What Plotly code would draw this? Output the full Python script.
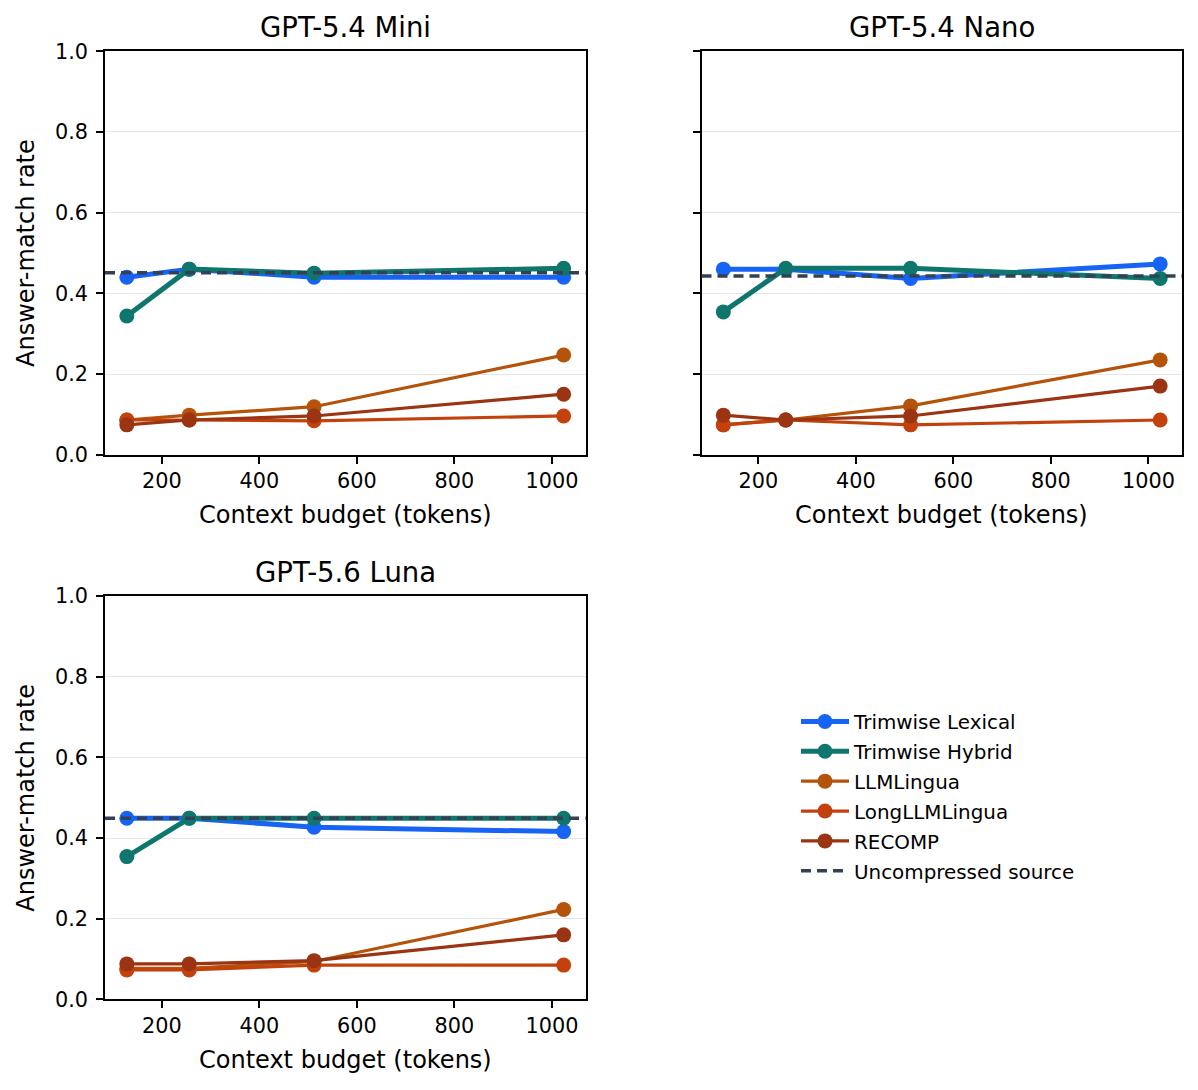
import plotly.graph_objects as go

# ---------------- data ----------------
budgets = [128, 256, 512, 1024]
panel_titles = ["GPT-5.4 Mini", "GPT-5.4 Nano", "GPT-5.6 Luna"]
method_names = ["Trimwise Lexical", "Trimwise Hybrid", "LLMLingua", "LongLLMLingua", "RECOMP"]

mini_lexical = [0.440, 0.460, 0.440, 0.440]
mini_hybrid = [0.344, 0.460, 0.450, 0.462]
mini_llmlingua = [0.086, 0.098, 0.119, 0.247]
mini_longllmlingua = [0.086, 0.086, 0.084, 0.096]
mini_recomp = [0.074, 0.086, 0.096, 0.150]
mini_uncompressed = 0.451

nano_lexical = [0.460, 0.460, 0.437, 0.473]
nano_hybrid = [0.354, 0.462, 0.462, 0.437]
nano_llmlingua = [0.074, 0.086, 0.121, 0.235]
nano_longllmlingua = [0.074, 0.086, 0.074, 0.086]
nano_recomp = [0.098, 0.086, 0.096, 0.170]
nano_uncompressed = 0.443

luna_lexical = [0.449, 0.449, 0.427, 0.416]
luna_hybrid = [0.354, 0.449, 0.449, 0.449]
luna_llmlingua = [0.077, 0.077, 0.094, 0.223]
luna_longllmlingua = [0.073, 0.073, 0.085, 0.085]
luna_recomp = [0.088, 0.088, 0.096, 0.160]
luna_uncompressed = 0.449

x_ticks = [200, 400, 600, 800, 1000]
y_ticks = [0.0, 0.2, 0.4, 0.6, 0.8, 1.0]
y_ticktext = ["0.0", "0.2", "0.4", "0.6", "0.8", "1.0"]
x_title = "Context budget (tokens)"
y_title = "Answer-match rate"
uncompressed_name = "Uncompressed source"

# ---------------- styles ----------------
colors = {
    "Trimwise Lexical": "#1764F4",
    "Trimwise Hybrid": "#0F766E",
    "LLMLingua": "#B45309",
    "LongLLMLingua": "#C2410C",
    "RECOMP": "#9A3412",
}
widths = {
    "Trimwise Lexical": 5.0,
    "Trimwise Hybrid": 5.0,
    "LLMLingua": 3.2,
    "LongLLMLingua": 3.2,
    "RECOMP": 3.2,
}
ranks = {name: i + 1 for i, name in enumerate(method_names)}
dash_color = "#334155"
dash_style = dict(color=dash_color, width=3.6, dash="10px,6px")

panels = [
    {
        "Trimwise Lexical": mini_lexical, "Trimwise Hybrid": mini_hybrid,
        "LLMLingua": mini_llmlingua, "LongLLMLingua": mini_longllmlingua,
        "RECOMP": mini_recomp, "unc": mini_uncompressed,
    },
    {
        "Trimwise Lexical": nano_lexical, "Trimwise Hybrid": nano_hybrid,
        "LLMLingua": nano_llmlingua, "LongLLMLingua": nano_longllmlingua,
        "RECOMP": nano_recomp, "unc": nano_uncompressed,
    },
    {
        "Trimwise Lexical": luna_lexical, "Trimwise Hybrid": luna_hybrid,
        "LLMLingua": luna_llmlingua, "LongLLMLingua": luna_longllmlingua,
        "RECOMP": luna_recomp, "unc": luna_uncompressed,
    },
]

W, H = 1198, 1090
axis_ids = [("x", "y"), ("x2", "y2"), ("x3", "y3")]
# pixel boxes of the plot areas (left, right, top, bottom)
boxes = [(105, 585.5, 51.3, 454.7), (701.5, 1182, 51.3, 454.7), (105, 585.5, 596, 999.4)]

draw_order = ["LLMLingua", "LongLLMLingua", "RECOMP", "Trimwise Lexical", "Trimwise Hybrid"]

fig = go.Figure()
for p, data in enumerate(panels):
    xa, ya = axis_ids[p]
    for name in draw_order:
        fig.add_trace(go.Scatter(
            x=budgets, y=data[name], name=name, mode="lines+markers",
            line=dict(color=colors[name], width=widths[name]),
            marker=dict(color=colors[name], size=15, line=dict(width=0)),
            xaxis=xa, yaxis=ya, legendgroup=name, legendrank=ranks[name],
            showlegend=(p == 0),
        ))
    fig.add_shape(type="line", xref=f"{xa} domain", yref=ya, x0=0, x1=1,
                  y0=data["unc"], y1=data["unc"], layer="above", line=dash_style)

# legend entry for the uncompressed reference line
fig.add_trace(go.Scatter(
    x=[None], y=[None], name=uncompressed_name, mode="lines",
    line=dash_style,
    legendgroup=uncompressed_name, legendrank=len(method_names) + 1,
    showlegend=True, xaxis="x", yaxis="y",
))

span = max(budgets) - min(budgets)
x_range = [min(budgets) - 0.05 * span, max(budgets) + 0.05 * span]

layout = dict(
    width=W, height=H, margin=dict(l=0, r=0, t=0, b=0),
    paper_bgcolor="white", plot_bgcolor="white",
    font=dict(family="DejaVu Sans", color="black"),
    showlegend=True,
    legend=dict(
        x=796 / W, y=1 - 702 / H, xanchor="left", yanchor="top",
        font=dict(size=19.9, color="black"), bgcolor="rgba(0,0,0,0)",
        traceorder="grouped", tracegroupgap=1, itemwidth=48,
    ),
)

annotations = []
for p, (l, r, t, b) in enumerate(boxes):
    xa, ya = axis_ids[p]
    xkey = "xaxis" if xa == "x" else "xaxis" + xa[1:]
    ykey = "yaxis" if ya == "y" else "yaxis" + ya[1:]
    layout[xkey] = dict(
        domain=[l / W, r / W], anchor=ya, range=x_range,
        tickvals=x_ticks, ticks="outside", ticklen=7, tickwidth=1.6, tickcolor="black",
        showline=True, linewidth=1.6, linecolor="black", mirror=True,
        showgrid=False, zeroline=False, automargin=False,
        tickfont=dict(size=20.8), ticklabelstandoff=0,
    )
    layout[ykey] = dict(
        domain=[1 - b / H, 1 - t / H], anchor=xa, range=[0, 1],
        tickvals=y_ticks, ticktext=y_ticktext, ticks="outside", ticklen=7, tickwidth=1.6,
        tickcolor="black", showline=True, linewidth=1.6, linecolor="black", mirror=True,
        showgrid=True, gridcolor="#e6e6e6", gridwidth=1.4, zeroline=False, automargin=False,
        tickfont=dict(size=20.8), ticklabelstandoff=4,
        showticklabels=(p != 1),
    )
    # panel title
    annotations.append(dict(
        text=panel_titles[p], x=(l + r) / 2 / W, y=1 - (t - 24) / H,
        xref="paper", yref="paper", xanchor="center", yanchor="middle",
        showarrow=False, font=dict(size=27.5, color="black"),
    ))
    # x-axis title
    annotations.append(dict(
        text=x_title, x=(l + r) / 2 / W, y=1 - (b + 60.5) / H,
        xref="paper", yref="paper", xanchor="center", yanchor="middle",
        showarrow=False, font=dict(size=24, color="black"),
    ))
    # y-axis title (left column only)
    if p != 1:
        annotations.append(dict(
            text=y_title, x=26 / W, y=1 - (t + b) / 2 / H, textangle=-90,
            xref="paper", yref="paper", xanchor="center", yanchor="middle",
            showarrow=False, font=dict(size=24, color="black"),
        ))

layout["annotations"] = annotations
fig.update_layout(**layout)
fig.write_html("out.html")
